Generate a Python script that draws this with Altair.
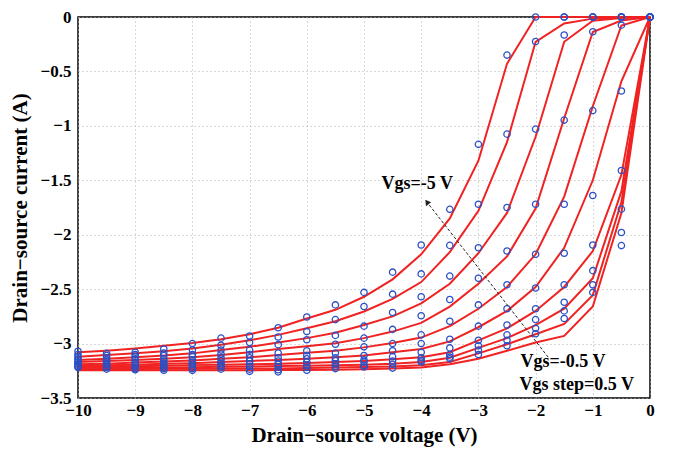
import altair as alt
import pandas as pd

vds = [-10, -9.5, -9, -8.5, -8, -7.5, -7, -6.5, -6, -5.5, -5, -4.5, -4, -3.5, -3, -2.5, -2, -1.5, -1, -0.5, 0]

# simulated curves (red lines), Vgs = -5 ... -0.5 V
sim_1 = [-3.08, -3.065, -3.045, -3.02, -2.995, -2.96, -2.915, -2.855, -2.77, -2.69, -2.57, -2.41, -2.18, -1.85, -1.32, -0.43, 0, 0, 0, 0, 0]
sim_2 = [-3.12, -3.105, -3.09, -3.07, -3.045, -3.01, -2.97, -2.92, -2.86, -2.795, -2.705, -2.59, -2.435, -2.16, -1.78, -1.15, -0.228, -0.06, -0.015, -0.005, 0]
sim_3 = [-3.15, -3.14, -3.125, -3.11, -3.09, -3.06, -3.03, -2.99, -2.95, -2.90, -2.83, -2.75, -2.63, -2.45, -2.17, -1.80, -1.10, -0.228, -0.035, -0.01, 0]
sim_4 = [-3.17, -3.16, -3.15, -3.14, -3.125, -3.105, -3.08, -3.05, -3.025, -2.997, -2.95, -2.89, -2.81, -2.66, -2.45, -2.2, -1.76, -0.93, -0.138, -0.033, 0]
sim_5 = [-3.19, -3.185, -3.175, -3.165, -3.155, -3.14, -3.126, -3.105, -3.085, -3.066, -3.035, -2.995, -2.945, -2.84, -2.68, -2.48, -2.18, -1.65, -0.82, -0.078, 0]
sim_6 = [-3.205, -3.2, -3.195, -3.185, -3.18, -3.17, -3.16, -3.15, -3.14, -3.126, -3.11, -3.08, -3.05, -2.98, -2.85, -2.7, -2.48, -2.12, -1.5, -0.59, 0]
sim_7 = [-3.215, -3.212, -3.208, -3.203, -3.198, -3.194, -3.19, -3.185, -3.178, -3.17, -3.16, -3.145, -3.126, -3.08, -2.97, -2.86, -2.7, -2.48, -2.15, -1.45, 0]
sim_8 = [-3.225, -3.223, -3.221, -3.219, -3.217, -3.214, -3.21, -3.207, -3.204, -3.20, -3.195, -3.185, -3.17, -3.13, -3.04, -2.95, -2.83, -2.68, -2.4, -1.6, 0]
sim_9 = [-3.235, -3.234, -3.233, -3.232, -3.231, -3.23, -3.23, -3.228, -3.225, -3.22, -3.215, -3.21, -3.20, -3.17, -3.09, -3.006, -2.915, -2.82, -2.555, -1.7, 0]
sim_10 = [-3.245, -3.245, -3.245, -3.245, -3.245, -3.245, -3.245, -3.243, -3.242, -3.24, -3.235, -3.23, -3.22, -3.19, -3.14, -3.066, -2.99, -2.93, -2.66, -1.8, 0]

# measured points (blue circles)
meas_1 = [-3.07, -3.09, -3.08, -3.05, -3.0, -2.95, -2.93, -2.855, -2.756, -2.645, -2.53, -2.344, -2.095, -1.767, -1.17, -0.35, 0, 0, 0, 0, 0]
meas_2 = [-3.10, -3.11, -3.10, -3.087, -3.06, -3.015, -2.99, -2.94, -2.89, -2.78, -2.66, -2.546, -2.36, -2.098, -1.72, -1.076, -0.225, 0, 0, 0, 0]
meas_3 = [-3.12, -3.13, -3.12, -3.11, -3.10, -3.06, -3.06, -3.01, -2.965, -2.925, -2.84, -2.714, -2.57, -2.38, -2.12, -1.75, -1.03, -0.165, 0, 0, 0]
meas_4 = [-3.14, -3.15, -3.145, -3.14, -3.12, -3.096, -3.10, -3.087, -3.066, -3.006, -2.95, -2.87, -2.745, -2.595, -2.40, -2.15, -1.72, -0.947, -0.135, 0, 0]
meas_5 = [-3.155, -3.165, -3.17, -3.16, -3.15, -3.13, -3.13, -3.13, -3.11, -3.087, -3.03, -3.0, -2.92, -2.795, -2.645, -2.46, -2.18, -1.72, -0.86, -0.075, 0]
meas_6 = [-3.17, -3.18, -3.185, -3.18, -3.17, -3.156, -3.16, -3.16, -3.14, -3.13, -3.11, -3.066, -3.0, -2.96, -2.84, -2.68, -2.49, -2.17, -1.64, -0.68, 0]
meas_7 = [-3.185, -3.195, -3.20, -3.20, -3.19, -3.18, -3.186, -3.19, -3.17, -3.156, -3.15, -3.12, -3.08, -3.04, -2.97, -2.83, -2.68, -2.46, -2.095, -1.41, 0]
meas_8 = [-3.20, -3.21, -3.215, -3.216, -3.21, -3.2, -3.21, -3.216, -3.20, -3.186, -3.17, -3.16, -3.13, -3.10, -3.02, -2.92, -2.78, -2.62, -2.33, -1.765, 0]
meas_9 = [-3.21, -3.22, -3.23, -3.23, -3.23, -3.216, -3.235, -3.24, -3.22, -3.21, -3.20, -3.19, -3.155, -3.125, -3.06, -2.97, -2.86, -2.70, -2.46, -1.98, 0]
meas_10 = [-3.22, -3.235, -3.24, -3.245, -3.246, -3.235, -3.255, -3.26, -3.245, -3.23, -3.215, -3.225, -3.17, -3.14, -3.10, -3.02, -2.91, -2.77, -2.53, -2.10, 0]

sims = [sim_1, sim_2, sim_3, sim_4, sim_5, sim_6, sim_7, sim_8, sim_9, sim_10]
meas = [meas_1, meas_2, meas_3, meas_4, meas_5, meas_6, meas_7, meas_8, meas_9, meas_10]

x_ticks = [-10, -9, -8, -7, -6, -5, -4, -3, -2, -1, 0]
y_ticks = [-3.5, -3, -2.5, -2, -1.5, -1, -0.5, 0]

# annotation text and arrow (data coordinates)
ann_text = ["Vgs=-5 V", "Vgs=-0.5 V", "Vgs step=0.5 V"]
ann_x = [-4.07, -1.52, -0.28]
ann_y = [-1.53, -3.17, -3.385]
ann_align = ["center", "center", "right"]
arrow_start = (-1.78, -3.125)
arrow_tip = (-3.90, -1.70)

rows = []
for i, s in enumerate(sims):
    for x, y in zip(vds, s):
        rows.append({"curve": i, "x": x, "y": y})
sim_df = pd.DataFrame(rows)

rows = []
for i, m in enumerate(meas):
    for x, y in zip(vds, m):
        rows.append({"curve": i, "x": x, "y": y})
meas_df = pd.DataFrame(rows)

serif = "Liberation Serif"

xscale = alt.Scale(domain=[-10, 0], nice=False, zero=False)
yscale = alt.Scale(domain=[-3.5, 0], nice=False, zero=False)

xaxis = alt.Axis(title="Drain\u2212source voltage (V)", values=x_ticks, format="~g",
                 grid=True, gridColor="#b0b0b0", gridDash=[1, 3], gridWidth=1,
                 ticks=False, domain=False, labelFont=serif, labelFontSize=17,
                 labelFontWeight="bold", labelColor="black", labelPadding=4,
                 titleFont=serif, titleFontSize=21, titleFontWeight="bold",
                 titleColor="black", titlePadding=6, labelFlush=False, labelOverlap=False)
yaxis = alt.Axis(title="Drain\u2212source current (A)", values=y_ticks, format="~g",
                 grid=True, gridColor="#b0b0b0", gridDash=[1, 3], gridWidth=1,
                 ticks=False, domain=False, labelFont=serif, labelFontSize=17,
                 labelFontWeight="bold", labelColor="black", labelPadding=7,
                 titleFont=serif, titleFontSize=21, titleFontWeight="bold",
                 titleColor="black", titlePadding=10, labelFlush=False, labelOverlap=False)

lines = alt.Chart(sim_df).mark_line(color="#f02222", strokeWidth=2).encode(
    x=alt.X("x:Q", scale=xscale, axis=xaxis),
    y=alt.Y("y:Q", scale=yscale, axis=yaxis),
    detail="curve:N",
    order="x:Q",
)

points = alt.Chart(meas_df).mark_point(shape="circle", filled=False, color="#2a50c6",
                                        size=40, strokeWidth=1.3, opacity=1).encode(
    x=alt.X("x:Q", scale=xscale),
    y=alt.Y("y:Q", scale=yscale),
)

ann_df = pd.DataFrame({"t": ann_text, "x": ann_x, "y": ann_y, "a": ann_align})
texts = alt.layer(*[
    alt.Chart(ann_df[ann_df.a == al]).mark_text(font=serif, fontSize=18, fontWeight="bold",
                                                  color="black", align=al, baseline="middle").encode(
        x=alt.X("x:Q", scale=xscale), y=alt.Y("y:Q", scale=yscale), text="t:N")
    for al in ["center", "right"]
])

arrow_df = pd.DataFrame({"x": [arrow_start[0]], "y": [arrow_start[1]],
                         "x2": [arrow_tip[0]], "y2": [arrow_tip[1]]})
arrow = alt.Chart(arrow_df).mark_rule(color="#222222", strokeDash=[3, 2], strokeWidth=1).encode(
    x=alt.X("x:Q", scale=xscale), y=alt.Y("y:Q", scale=yscale), x2="x2:Q", y2="y2:Q")

head_df = pd.DataFrame({"x": [arrow_tip[0]], "y": [arrow_tip[1]]})
head = alt.Chart(head_df).mark_point(shape="triangle-up", filled=True, color="#222222",
                                     size=40, angle=323, opacity=1).encode(
    x=alt.X("x:Q", scale=xscale), y=alt.Y("y:Q", scale=yscale))

chart = alt.layer(lines, points, arrow, head, texts).properties(
    width=572, height=381,
    autosize=alt.AutoSizeParams(type="none"),
    padding={"left": 70, "top": 9, "right": 16, "bottom": 49},
    background="white",
).configure_view(stroke="black", strokeWidth=1.5)

chart.save("out.html", embed_options={"renderer": "svg", "actions": False})
